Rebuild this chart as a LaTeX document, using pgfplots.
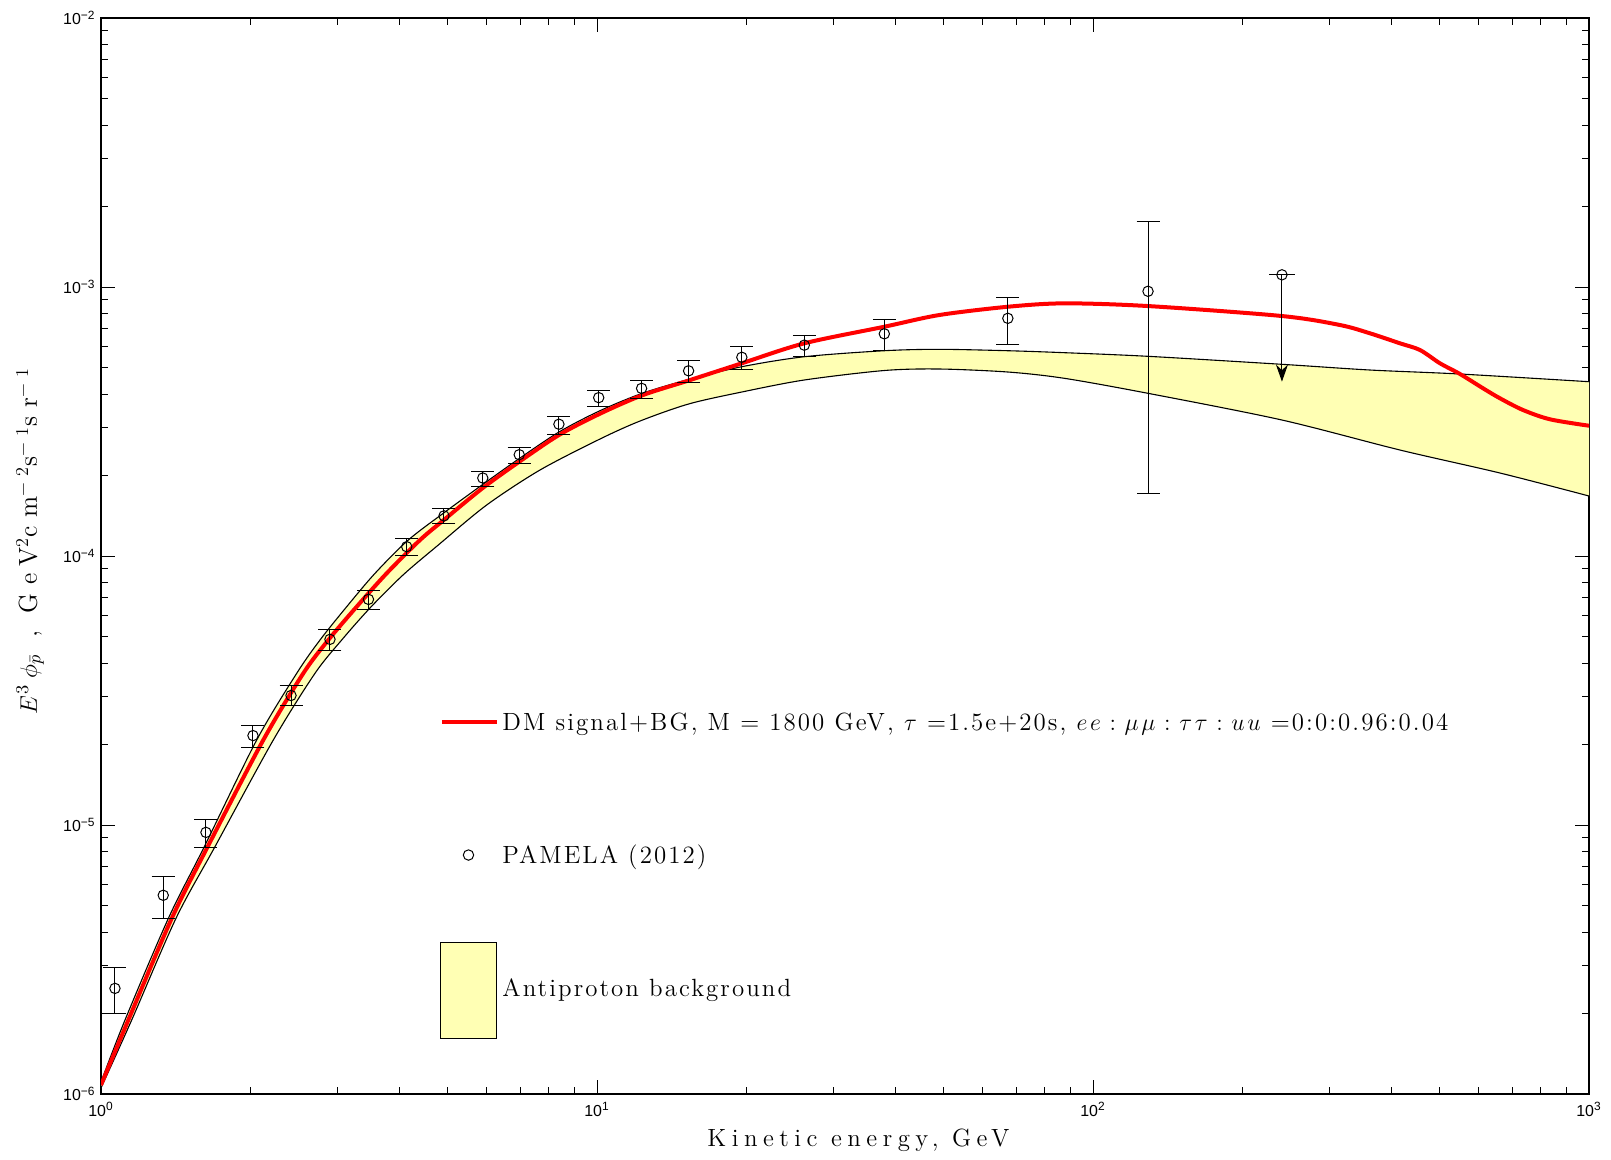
\documentclass[border=0pt]{standalone}
\usepackage{fontspec}
\usepackage{pgfplots}
\usepackage{pgfplotstable}
\pgfplotsset{compat=1.18}
\usetikzlibrary{arrows.meta}
\newfontfamily\helv{Liberation Sans}
\newfontfamily\lmx{lmroman12-regular.otf}[LetterSpace=22]
\newfontfamily\lmy{lmroman12-regular.otf}[LetterSpace=34]
\newfontfamily\lmleg{lmroman12-regular.otf}[LetterSpace=8.3]
\definecolor{bandyellow}{RGB}{255,255,180}
\definecolor{dmred}{RGB}{255,0,0}

\pgfplotstableread{
x y
1 1.108e-6
1.1178 1.8836e-6
1.3672 4.4982e-6
1.6154 8.306e-6
2.0602 2.0701e-5
2.4809 3.6645e-5
2.7638 4.8724e-5
3.1288 6.480e-5
3.5680 8.623e-5
4.1646 1.1468e-4
4.9383 1.4573e-4
5.8830 1.8449e-4
6.9719 2.3036e-4
8.3825 2.8907e-4
10.107 3.4596e-4
12.306 4.0195e-4
15.299 4.5306e-4
19.584 5.0549e-4
26.177 5.506e-4
37.957 5.7966e-4
48.985 5.8665e-4
67.35 5.7966e-4
87.53 5.6999e-4
129.1 5.5254e-4
240.4 5.1599e-4
361.8 4.9141e-4
549.5 4.7487e-4
1000 4.4461e-4
}\bandup

\pgfplotstableread{
x y
1 1.0527e-6
1.1532 1.8836e-6
1.4164 4.4982e-6
1.6976 8.306e-6
2.2253 2.0701e-5
2.7005 3.6645e-5
3.0570 4.8724e-5
3.4861 6.408e-5
4.0631 8.498e-5
4.7865 1.0987e-4
5.9928 1.5475e-4
7.6752 2.0878e-4
10.140 2.7223e-4
12.212 3.1758e-4
15.299 3.6740e-4
19.584 4.0702e-4
26.177 4.5112e-4
37.957 4.8931e-4
48.985 4.9564e-4
67.35 4.8307e-4
87.53 4.5773e-4
129.1 4.0251e-4
240.4 3.2030e-4
415.8 2.4774e-4
661.7 2.0346e-4
1000 1.6713e-4
}\banddown

% closed outline of the band: upper edge forward, lower edge backward
\pgfplotstableread{
x y
1 1.108e-6
1.1178 1.8836e-6
1.3672 4.4982e-6
1.6154 8.306e-6
2.0602 2.0701e-5
2.4809 3.6645e-5
2.7638 4.8724e-5
3.1288 6.480e-5
3.5680 8.623e-5
4.1646 1.1468e-4
4.9383 1.4573e-4
5.8830 1.8449e-4
6.9719 2.3036e-4
8.3825 2.8907e-4
10.107 3.4596e-4
12.306 4.0195e-4
15.299 4.5306e-4
19.584 5.0549e-4
26.177 5.506e-4
37.957 5.7966e-4
48.985 5.8665e-4
67.35 5.7966e-4
87.53 5.6999e-4
129.1 5.5254e-4
240.4 5.1599e-4
361.8 4.9141e-4
549.5 4.7487e-4
1000 4.4461e-4
1000 1.6713e-4
661.7 2.0346e-4
415.8 2.4774e-4
240.4 3.2030e-4
129.1 4.0251e-4
87.53 4.5773e-4
67.35 4.8307e-4
48.985 4.9564e-4
37.957 4.8931e-4
26.177 4.5112e-4
19.584 4.0702e-4
15.299 3.6740e-4
12.212 3.1758e-4
10.140 2.7223e-4
7.6752 2.0878e-4
5.9928 1.5475e-4
4.7865 1.0987e-4
4.0631 8.498e-5
3.4861 6.408e-5
3.0570 4.8724e-5
2.7005 3.6645e-5
2.2253 2.0701e-5
1.6976 8.306e-6
1.4164 4.4982e-6
1.1532 1.8836e-6
1 1.0527e-6
}\bandfill

\pgfplotstableread{
x y
1 1.0798e-6
1.1353 1.8836e-6
1.3889 4.4982e-6
1.6410 8.306e-6
2.1243 2.0701e-5
2.5579 3.6645e-5
2.8726 4.8724e-5
3.2774 6.480e-5
3.7670 8.623e-5
4.3971 1.1468e-4
4.9383 1.3727e-4
5.8830 1.7895e-4
6.9719 2.2415e-4
8.3825 2.8173e-4
10.107 3.3718e-4
12.306 3.9512e-4
15.299 4.4920e-4
19.584 5.2043e-4
26.177 6.1756e-4
37.957 7.1185e-4
48.985 7.8686e-4
67.35 8.4455e-4
87.53 8.6948e-4
129.1 8.4962e-4
240.4 7.8016e-4
314.8 7.2229e-4
361.8 6.7276e-4
415.8 6.1756e-4
456.3 5.8315e-4
500.7 5.2043e-4
549.5 4.7487e-4
611.5 4.2018e-4
661.7 3.8565e-4
736.1 3.4901e-4
834.4 3.2223e-4
1000 3.0503e-4
}\dmsignal

\pgfplotstableread{
x y ep em
1.067 2.47e-6 0.49e-6 0.48e-6
1.335 5.48e-6 0.96e-6 0.98e-6
1.628 9.39e-6 1.08e-6 1.13e-6
2.025 2.15e-5 2.0e-6 2.0e-6
2.416 3.03e-5 2.6e-6 2.6e-6
2.895 4.90e-5 4.2e-6 4.4e-6
3.462 6.90e-5 5.3e-6 5.8e-6
4.134 1.083e-4 8.1e-6 8.0e-6
4.915 1.41e-4 9e-6 9e-6
5.885 1.95e-4 1.2e-5 1.3e-5
6.97 2.38e-4 1.6e-5 1.7e-5
8.38 3.09e-4 2.1e-5 2.6e-5
10.08 3.88e-4 2.6e-5 2.8e-5
12.30 4.20e-4 3.1e-5 3.4e-5
15.30 4.88e-4 4.5e-5 4.6e-5
19.59 5.48e-4 5.2e-5 5.4e-5
26.18 6.08e-4 5.1e-5 5.4e-5
37.96 6.70e-4 8.5e-5 8.7e-5
67.35 7.65e-4 1.53e-4 1.53e-4
129.1 9.64e-4 7.94e-4 7.93e-4
}\pamela

\begin{document}
\begin{tikzpicture}
\path[use as bounding box] (-50.5bp,-33bp) rectangle (755bp,547bp);
\begin{axis}[
  xmode=log, ymode=log,
  xmin=1, xmax=1000, ymin=1e-6, ymax=1e-2,
  width=744bp, height=538bp, scale only axis,
  axis line style={line width=0.9bp},
  tick align=inside,
  major tick length=7bp, minor tick length=3.5bp,
  every tick/.style={line width=0.5bp, black},
  xtick={1,10,100,1000},
  xticklabels={10\textsuperscript{0},10\textsuperscript{1},10\textsuperscript{2},10\textsuperscript{3}},
  ytick={1e-6,1e-5,1e-4,1e-3,1e-2},
  yticklabels={10\textsuperscript{−6},10\textsuperscript{−5},10\textsuperscript{−4},10\textsuperscript{−3},10\textsuperscript{−2}},
  minor xtick={2,3,4,5,6,7,8,9,20,30,40,50,60,70,80,90,200,300,400,500,600,700,800,900},
  minor ytick={2e-6,3e-6,4e-6,5e-6,6e-6,7e-6,8e-6,9e-6,2e-5,3e-5,4e-5,5e-5,6e-5,7e-5,8e-5,9e-5,2e-4,3e-4,4e-4,5e-4,6e-4,7e-4,8e-4,9e-4,2e-3,3e-3,4e-3,5e-3,6e-3,7e-3,8e-3,9e-3},
  xticklabel style={font=\helv\fontsize{8}{9.6}\selectfont, inner sep=0pt, yshift=-4bp},
  yticklabel style={font=\helv\fontsize{8}{9.6}\selectfont, inner sep=0pt, xshift=-2.5bp},
  xlabel={Kinetic energy, GeV},
  xlabel style={font=\lmx\fontsize{12.5}{15}\selectfont, at={(axis description cs:0.509,-0.043)}, anchor=center},
  ylabel={$E^{\mkern2mu 3}\mkern4mu\phi_{\bar p}$ , GeV\textsuperscript{2}cm\textsuperscript{−2}s\textsuperscript{−1}sr\textsuperscript{−1}},
  ylabel style={font=\lmy\fontsize{13}{15}\selectfont, at={(axis description cs:-0.0477,0.5135)}, anchor=center},
]
\addplot[fill=bandyellow, draw=none] table {\bandfill};
\addplot[black, line width=0.55bp, smooth] table {\bandup};
\addplot[black, line width=0.55bp, smooth] table {\banddown};
\addplot[dmred, line width=2bp, smooth, line join=round] table {\dmsignal};

\addplot[black, only marks, mark=o, mark size=2.6bp, mark options={line width=0.5bp},
  error bars/.cd, y dir=both, y explicit,
  error bar style={line width=0.5bp, black},
  error mark options={rotate=90, mark size=5.75bp, line width=0.5bp, black}]
  table[x=x, y=y, y error plus=ep, y error minus=em] {\pamela};
% upper limit point
\addplot[black, line width=0.5bp, -{Stealth[length=8.5bp, width=6bp]}] coordinates {(240.4,1.11e-3) (240.4,4.45e-4)};
\addplot[black, only marks, mark=o, mark size=2.6bp, mark options={line width=0.5bp}] coordinates {(240.4,1.11e-3)};
\addplot[black, line width=0.5bp] coordinates {(226.6,1.11e-3) (255.0,1.11e-3)};

% legend
\addplot[dmred, line width=2bp] coordinates {(4.869,2.415e-5) (6.286,2.415e-5)};
\node[anchor=west, inner sep=0pt, yshift=-1.2bp, font=\lmleg\fontsize{12.5}{15}\selectfont] at (axis cs:6.436,2.415e-5)
  {DM signal+BG, M = 1800 GeV, $\tau$ =1.5e+20s, $e\mkern2mu e\mkern1.5mu:\mkern1.5mu\mu\mkern2mu\mu\mkern1.5mu:\mkern1.5mu\tau\mkern2mu\tau\mkern1.5mu:\mkern1.5mu u\mkern2mu u$ =0:0:0.96:0.04};
\addplot[black, only marks, mark=o, mark size=2.6bp, mark options={line width=0.5bp}] coordinates {(5.507,7.735e-6)};
\node[anchor=west, inner sep=0pt, yshift=-1.2bp, font=\lmleg\fontsize{12.5}{15}\selectfont] at (axis cs:6.436,7.735e-6)
  {PAMELA (2012)};
\addplot[fill=bandyellow, draw=black, line width=0.5bp] coordinates {(4.826,3.650e-6) (6.286,3.650e-6) (6.286,1.611e-6) (4.826,1.611e-6) (4.826,3.650e-6)};
\node[anchor=west, inner sep=0pt, yshift=-1.2bp, font=\lmleg\fontsize{12.5}{15}\selectfont] at (axis cs:6.436,2.477e-6)
  {Antiproton background};
\end{axis}
\end{tikzpicture}
\end{document}
